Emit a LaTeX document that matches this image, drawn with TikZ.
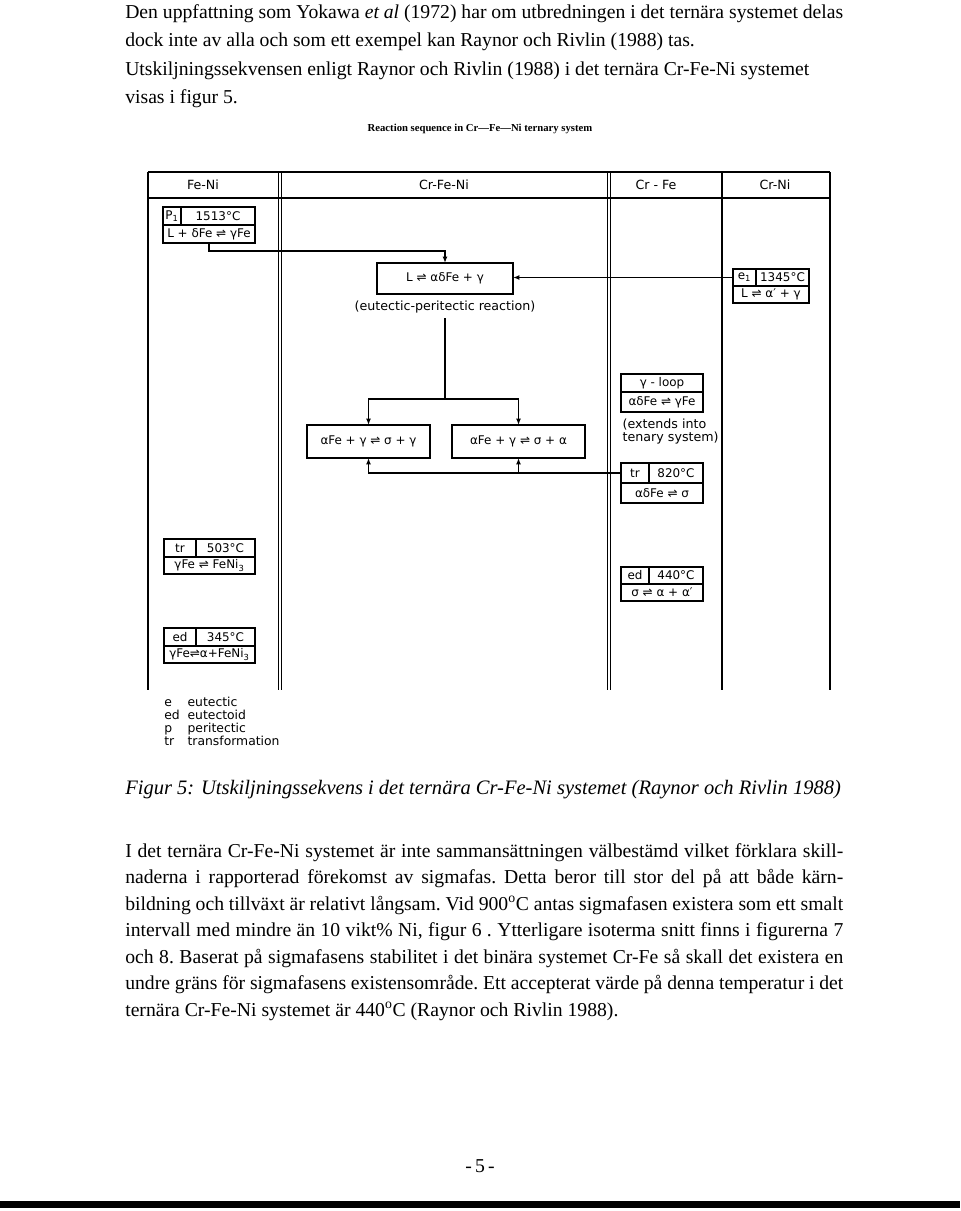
\documentclass[tikz,border=0pt]{standalone}
\usepackage{fontspec}
\setmainfont{Liberation Serif}
\newfontfamily\lettering{DejaVu Sans}
\usetikzlibrary{arrows.meta,positioning}

\newlength{\bodyW}
\setlength{\bodyW}{179.5mm}
\newcommand{\fullline}[1]{\makebox[\bodyW][s]{#1}}

\tikzset{
  cell/.style={
    draw, line width=0.9pt, inner sep=0pt, outer sep=0pt,
    font=\lettering\fontsize{8.5}{10}\selectfont,
    anchor=north west, minimum height=4.5mm
  },
  hdr/.style={font=\lettering\fontsize{9}{9.4}\selectfont},
  colline/.style={line width=0.9pt},
  arr/.style={-{Latex[length=4.5pt,width=3.5pt]}, line width=0.9pt},
  body/.style={
    font=\frenchspacing\fontsize{14}{19.9}\selectfont,
    anchor=north west, inner sep=0pt, align=left
  },
}

\begin{document}
\begin{tikzpicture}[x=0.25mm, y=-0.25mm]

  \useasboundingbox (0,0) rectangle (960,1211);

  % -- text above the figure
  \node[body] (para1) at (125,4)
    {\fullline{Den uppfattning som Yokawa \textit{et al} (1972) har om utbredningen i det ternära systemet delas}\\
     dock inte av alla och som ett exempel kan Raynor och Rivlin (1988) tas.};
  \node[body] (para2) at (125,62)
    {Utskiljningssekvensen enligt Raynor och Rivlin (1988) i det ternära Cr-Fe-Ni systemet\\
     visas i figur 5.};

  \node[font=\bfseries\fontsize{7.6}{9}\selectfont] (title) at (480,129)
    {Reaction sequence in Cr—Fe—Ni ternary system};

  % -- table frame
  \draw[colline] (148,172) -- (830,172);
  \draw[colline] (148,198) -- (830,198);
  \foreach \x in {148,722,830}
    \draw[colline] (\x,172) -- (\x,690);
  \foreach \x in {280,609} {
    \draw[colline] (\x-1.4,172) -- (\x-1.4,690);
    \draw[colline] (\x+1.4,172) -- (\x+1.4,690);
  }

  \node[hdr] (hFeNi)   at (203,185) {Fe-Ni};
  \node[hdr] (hCrFeNi) at (444,185) {Cr-Fe-Ni};
  \node[hdr] (hCrFe)   at (656,185) {Cr - Fe};
  \node[hdr] (hCrNi)   at (775,185) {Cr-Ni};

  % -- Fe-Ni column
  \node[cell, minimum width=4.5mm] (p1a) at (163,207) {P\textsubscript{1}};
  \node[cell, minimum width=18.5mm] (p1b) at (p1a.north east) {1513°C};
  \node[cell, minimum width=23mm] (p1c) at (p1a.south west) {L + δFe ⇌ γFe};

  \node[cell, minimum width=8mm] (tr5a) at (164,539) {tr};
  \node[cell, minimum width=14.75mm] (tr5b) at (tr5a.north east) {503°C};
  \node[cell, minimum width=22.75mm, minimum height=4.25mm] (tr5c) at (tr5a.south west)
    {γFe ⇌ FeNi\textsubscript{3}};

  \node[cell, minimum width=8mm] (ed3a) at (164,628) {ed};
  \node[cell, minimum width=14.75mm] (ed3b) at (ed3a.north east) {345°C};
  \node[cell, minimum width=22.75mm, minimum height=4.25mm] (ed3c) at (ed3a.south west)
    {γFe⇌α+FeNi\textsubscript{3}};

  % -- Cr-Fe-Ni column
  \node[cell, minimum width=34mm, minimum height=7.75mm] (lres) at (377,263)
    {L ⇌ αδFe + γ};
  \node[hdr, below=0.5mm of lres] (lresnote) {(eutectic-peritectic reaction)};

  \node[cell, minimum width=30.75mm, minimum height=8.25mm] (sgam) at (307,425)
    {αFe + γ ⇌ σ + γ};
  \node[cell, minimum width=33.25mm, minimum height=8.25mm] (salp) at (452,425)
    {αFe + γ ⇌ σ + α};

  % -- Cr-Fe column
  \node[cell, minimum width=20.5mm] (gla) at (621,374) {γ - loop};
  \node[cell, minimum width=20.5mm, minimum height=5mm] (glb) at (gla.south west)
    {αδFe ⇌ γFe};
  \node[hdr, anchor=north west, align=left, inner sep=1pt, yshift=-1.2mm] (glnote)
    at (glb.south west) {(extends into\\tenary system)};

  \node[cell, minimum width=7mm, minimum height=5mm] (tr8a) at (621,463) {tr};
  \node[cell, minimum width=13.5mm, minimum height=5mm] (tr8b) at (tr8a.north east) {820°C};
  \node[cell, minimum width=20.5mm, minimum height=5mm] (tr8c) at (tr8a.south west)
    {αδFe ⇌ σ};

  \node[cell, minimum width=7mm, minimum height=4.25mm] (ed4a) at (621,567) {ed};
  \node[cell, minimum width=13.5mm, minimum height=4.25mm] (ed4b) at (ed4a.north east) {440°C};
  \node[cell, minimum width=20.5mm, minimum height=4.25mm] (ed4c) at (ed4a.south west)
    {σ ⇌ α + α′};

  % -- Cr-Ni column
  \node[cell, minimum width=5.75mm, minimum height=4.25mm] (e1a) at (733,269) {e\textsubscript{1}};
  \node[cell, minimum width=13.25mm, minimum height=4.25mm] (e1b) at (e1a.north east) {1345°C};
  \node[cell, minimum width=19mm, minimum height=4.25mm] (e1c) at (e1a.south west)
    {L ⇌ α′ + γ};

  % -- connectors
  \coordinate (fork) at (445,399);
  \draw[arr] (p1c.south) -- ++(0,8) -| (lres.north);
  \draw[arr] (e1a.west) -- (e1a.west -| lres.east);
  \draw[colline] (lresnote.south) -- (lresnote.south |- fork);
  \draw[arr] (lresnote.south |- fork) -| (sgam.north);
  \draw[arr] (lresnote.south |- fork) -| (salp.north);
  \draw[arr] (tr8a.west) -| (sgam.south);
  \draw[arr] (tr8a.west -| salp.south) -- (salp.south);

  % -- legend
  \node[font=\lettering\fontsize{8.8}{8.6}\selectfont, anchor=north west, inner sep=0pt]
    (legend) at (164,697)
    {\begin{tabular}{@{}l@{\ \ }l@{}}
       e & eutectic\\ ed & eutectoid\\ p & peritectic\\ tr & transformation
     \end{tabular}};

  % -- caption and text below
  \node[font=\itshape\fontsize{14.6}{17}\selectfont, anchor=base west, inner sep=0pt] (caption)
    at (125,794)
    {Figur 5: Utskiljningssekvens i det ternära Cr-Fe-Ni systemet (Raynor och Rivlin 1988)};

  \node[body, font=\frenchspacing\fontsize{14}{18.85}\selectfont] (para3) at (125,843)
    {\fullline{I det ternära Cr-Fe-Ni systemet är inte sammansättningen välbestämd vilket förklara skill-}\\
     \fullline{naderna i rapporterad förekomst av sigmafas. Detta beror till stor del på att både kärn-}\\
     \fullline{bildning och tillväxt är relativt långsam. Vid 900\textsuperscript{o}C antas sigmafasen existera som ett smalt}\\
     \fullline{intervall med mindre än 10 vikt\% Ni, figur 6 . Ytterligare isoterma snitt finns i figurerna 7}\\
     \fullline{och 8. Baserat på sigmafasens stabilitet i det binära systemet Cr-Fe så skall det existera en}\\
     \fullline{undre gräns för sigmafasens existensområde. Ett accepterat värde på denna temperatur i det}\\
     ternära Cr-Fe-Ni systemet är 440\textsuperscript{o}C (Raynor och Rivlin 1988).};

  % -- page foot
  \node[font=\fontsize{14}{17}\selectfont] (pageno) at (480,1166) {-\,5\,-};
  \fill (0,1201) rectangle (960,1208);

\end{tikzpicture}
\end{document}
